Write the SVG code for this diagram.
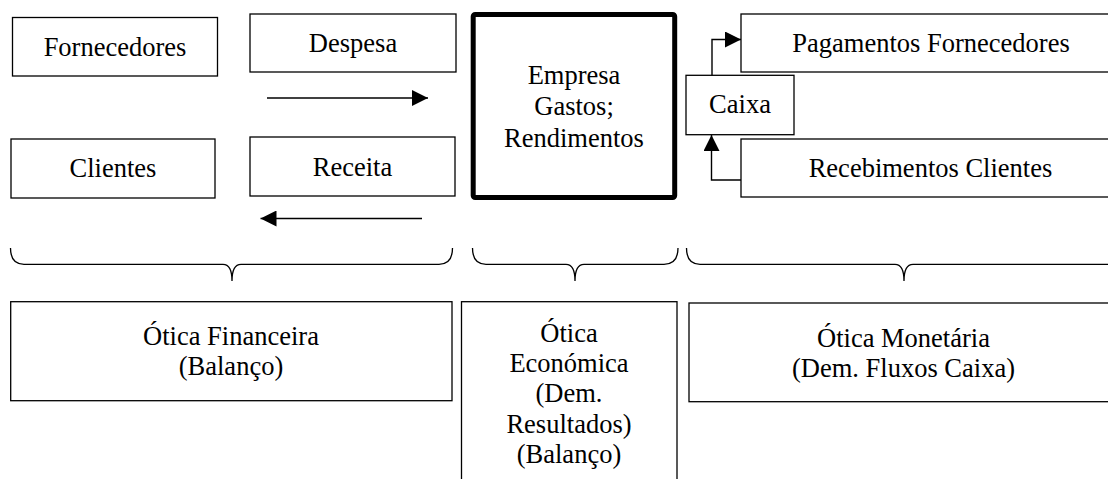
<svg xmlns="http://www.w3.org/2000/svg" width="1108" height="479" viewBox="0 0 1108 479">
<style>
.box{fill:#fff;stroke:#000;stroke-width:1.3}
.thick{fill:#fff;stroke:#000;stroke-width:5}
text{font-size:26.5px;fill:#000;text-anchor:middle}
.ln{fill:none;stroke:#000;stroke-width:1.4}
.br{fill:none;stroke:#000;stroke-width:1.3}
</style>
<defs>
<marker id="ah" markerWidth="16" markerHeight="16" refX="16" refY="8" orient="auto" markerUnits="userSpaceOnUse">
<path d="M0,0 L16,8 L0,16 Z" fill="#000"/>
</marker>
</defs>
<rect width="1108" height="479" fill="#fff"/>
<g font-family="'Liberation Serif', 'Times New Roman', serif">
<g id="fornecedores"><rect class="box" x="12.5" y="17.5" width="205" height="58.5"/><text x="115" y="56">Fornecedores</text></g>
<g id="despesa"><rect class="box" x="250" y="14" width="206" height="58"/><text x="353" y="52">Despesa</text></g>
<g id="clientes"><rect class="box" x="11" y="139" width="204" height="59"/><text x="113" y="177">Clientes</text></g>
<g id="receita"><rect class="box" x="250" y="137" width="205" height="59"/><text x="352.5" y="176">Receita</text></g>
<g id="empresa"><rect class="thick" x="473.2" y="14.5" width="201.5" height="183" rx="2"/>
<text x="574" y="83.5">Empresa</text><text x="574" y="115">Gastos;</text><text x="574" y="146.5">Rendimentos</text></g>
<g id="caixa"><rect class="box" x="686" y="75.3" width="108" height="59.4"/><text x="740" y="113">Caixa</text></g>
<g id="pagamentos"><rect class="box" x="741" y="14" width="390" height="58"/><text x="931" y="52">Pagamentos Fornecedores</text></g>
<g id="recebimentos"><rect class="box" x="741" y="139" width="390" height="58"/><text x="930.5" y="177">Recebimentos Clientes</text></g>
<g id="otica-financeira"><rect class="box" x="10.7" y="301.7" width="441.3" height="99"/><text x="231" y="345">Ótica Financeira</text><text x="231" y="375">(Balanço)</text></g>
<g id="otica-economica"><rect class="box" x="461.5" y="301.7" width="215.5" height="190"/>
<text x="569" y="342">Ótica</text><text x="569" y="372">Económica</text><text x="569" y="402">(Dem.</text><text x="569" y="433">Resultados)</text><text x="569" y="463">(Balanço)</text></g>
<g id="otica-monetaria"><rect class="box" x="689" y="303" width="440" height="98.7"/><text x="903.5" y="346.7">Ótica Monetária</text><text x="903.5" y="376.7">(Dem. Fluxos Caixa)</text></g>
</g>
<g id="braces">
<path class="br" d="M10.5,248 Q10.5,264.3 24,264.3 L223,264.3 Q232,264.3 232,281 Q232,264.3 241,264.3 L439,264.3 Q452.5,264.3 452.5,248"/>
<path class="br" d="M472.5,248 Q472.5,264.3 486,264.3 L566,264.3 Q575,264.3 575,281 Q575,264.3 584,264.3 L664,264.3 Q678,264.3 678,248"/>
<path class="br" d="M686.5,248 Q686.5,264.3 700,264.3 L895,264.3 Q904,264.3 904,281 Q904,264.3 913,264.3 L1108,264.3 Q1121,264.3 1121,248"/>
</g>
<g id="connectors">
<line class="ln" x1="267" y1="98" x2="428" y2="98" marker-end="url(#ah)"/>
<line class="ln" x1="422" y1="218.5" x2="260.5" y2="218.5" marker-end="url(#ah)"/>
<polyline class="ln" points="712,75.3 712,39.5 741,39.5" marker-end="url(#ah)"/>
<polyline class="ln" points="741,180 711.5,180 711.5,135" marker-end="url(#ah)"/>
</g>
</svg>
